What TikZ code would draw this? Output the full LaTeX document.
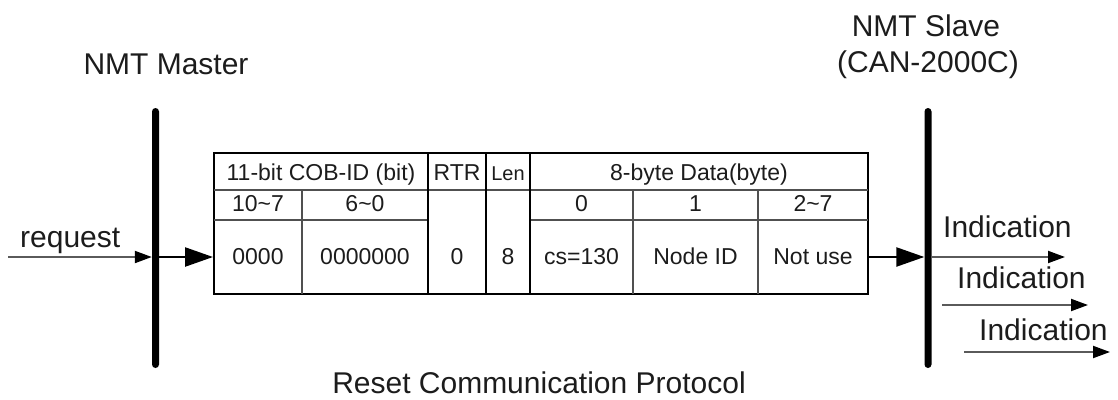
\documentclass[tikz,border=0pt]{standalone}
\usepackage{fontspec}
\setmainfont{Liberation Sans}
\usetikzlibrary{arrows.meta}
\definecolor{txt}{HTML}{1C1C1C}
\definecolor{gridc}{HTML}{505050}
\definecolor{wire}{HTML}{5A5A5A}
\begin{document}
\begin{tikzpicture}[x=1pt,y=-1pt,
  lbl/.style={inner sep=0pt, anchor=base, font=\fontsize{30}{32}\selectfont, text=txt},
  cell/.style={inner sep=0pt, anchor=base, font=\fontsize{23}{25}\selectfont, text=txt},
  barnode/.style={fill=black, minimum width=7pt, minimum height=260pt, inner sep=0pt, rounded corners=3.5pt},
  major/.style={draw=black, line width=2pt},
  minor/.style={draw=gridc, line width=1.4pt},
  thinwire/.style={draw=wire, line width=2pt, -{Triangle[length=17pt,width=12pt,color=black]}},
  boldwire/.style={draw=black, line width=2.4pt, -{Triangle[length=28pt,width=19pt]}}
]
\useasboundingbox (0,0) rectangle (1118,399);

% titles
\node[lbl] (master) at (166,74) {NMT Master};
\node[lbl] (slave1) at (926,36) {NMT Slave};
\node[lbl] (slave2) at (928,72) {(CAN-2000C)};
\node[lbl] (title) at (539,393) {Reset Communication Protocol};

% bars
\node[barnode] (mbar) at (155.5,238) {};
\node[barnode] (sbar) at (928,238) {};

% table frame
\node[major, minimum width=654pt, minimum height=141pt, inner sep=0pt] (tbl) at (541,223.5) {};
% inner grid
\draw[minor] (214,190) -- (868,190);
\draw[minor] (214,220) -- (428,220);
\draw[minor] (530,220) -- (868,220);
\draw[minor] (302,190) -- (302,294);
\draw[minor] (633,190) -- (633,294);
\draw[minor] (758,190) -- (758,294);
\draw[major] (428,153) -- (428,294);
\draw[major] (486,153) -- (486,294);
\draw[major] (530,153) -- (530,294);

% header row
\node[cell] (h1) at (321,180) {11-bit COB-ID (bit)};
\node[cell] (h2) at (457,180) {RTR};
\node[cell, font=\fontsize{20}{22}\selectfont] (h3) at (508,180) {Len};
\node[cell] (h4) at (699,180) {8-byte Data(byte)};
% second row
\node[cell] (s1) at (258,211.5) {10\textasciitilde 7};
\node[cell] (s2) at (365,211.5) {6\textasciitilde 0};
\node[cell] (s3) at (581.5,211.5) {0};
\node[cell] (s4) at (695.5,211.5) {1};
\node[cell] (s5) at (813,211.5) {2\textasciitilde 7};
% data row
\node[cell] (d1) at (258,264) {0000};
\node[cell] (d2) at (365,264) {0000000};
\node[cell] (d3) at (457,264) {0};
\node[cell] (d4) at (508,264) {8};
\node[cell] (d5) at (581.5,264) {cs=130};
\node[cell] (d6) at (695.5,264) {Node ID};
\node[cell] (d7) at (813,264) {Not use};

% connectors
\coordinate (row) at (0,257);
\coordinate (reqstart) at (8,257);
\node[lbl, anchor=base west] (req) at (20,247) {request};
\draw[thinwire] (reqstart) -- (mbar.west |- row);
\draw[boldwire] (mbar.east |- row) -- (tbl.west |- row);
\draw[boldwire] (tbl.east |- row) -- (sbar.west |- row);

\coordinate (i1end) at (1065,257);
\coordinate (i2start) at (942,305);
\coordinate (i2end) at (1088,305);
\coordinate (i3start) at (964,352);
\coordinate (i3end) at (1110,352);
\draw[thinwire] (sbar.east |- row) -- (i1end);
\draw[thinwire] (i2start) -- (i2end);
\draw[thinwire] (i3start) -- (i3end);
\node[lbl, anchor=base west] (ind1) at (943,237) {Indication};
\node[lbl, anchor=base west] (ind2) at (957,288) {Indication};
\node[lbl, anchor=base west] (ind3) at (979,340) {Indication};
\end{tikzpicture}
\end{document}
